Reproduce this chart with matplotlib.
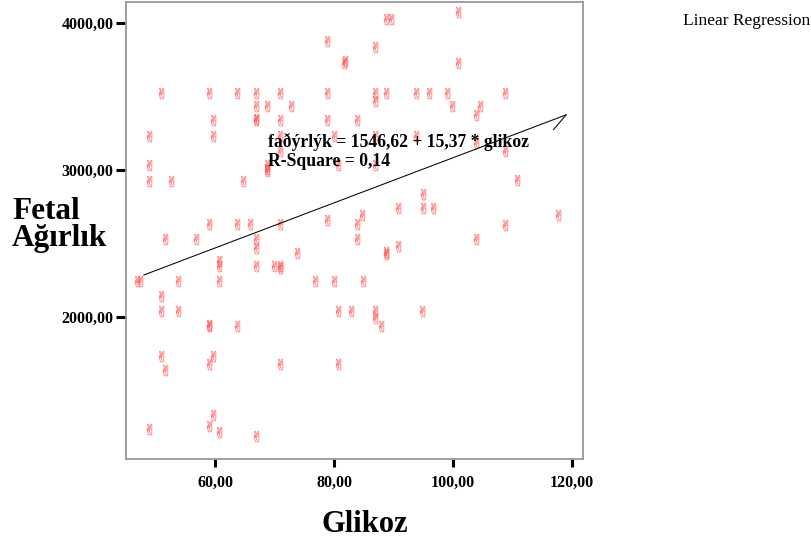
import matplotlib
matplotlib.use('Agg')
import matplotlib.pyplot as plt

# glikoz (x) and fetal weight (y)
glikoz = [88.7, 89.6, 100.8, 78.8, 86.8, 81.7, 81.8, 100.8,
          50.9, 58.9, 63.6, 66.8, 70.9, 78.8, 86.8, 88.7, 93.7, 95.9, 98.9, 108.8,
          86.8, 66.8, 68.7, 72.7, 99.8, 104.6, 103.9,
          59.6, 66.8, 66.9, 70.9, 78.8, 83.9,
          48.8, 59.6, 70.9, 79.9, 86.8, 93.7, 103.9, 70.9, 108.8,
          48.8, 68.7, 80.7, 86.9, 68.7, 68.7,
          48.8, 52.6, 64.7, 110.8, 94.9, 90.8, 94.9, 96.7, 84.7, 117.7, 78.8,
          58.9, 63.6, 65.8, 70.9, 83.9, 108.8,
          51.6, 56.8, 66.8, 83.9, 103.9, 66.8, 90.8, 73.7, 88.8, 88.8,
          60.7, 60.7, 66.8, 69.9, 70.9, 70.9,
          46.8, 47.4, 53.8, 60.7, 76.7, 79.9, 84.8, 50.9,
          50.9, 53.8, 80.7, 82.8, 86.9, 94.8, 86.9,
          58.9, 58.9, 63.6, 87.9, 50.9, 59.6, 58.9, 70.9, 80.7, 51.6,
          59.6, 58.9, 48.8, 60.7, 66.8]
fetal = [4030, 4030, 4080, 3876, 3835, 3729, 3740, 3729,
         3528, 3528, 3528, 3528, 3528, 3528, 3528, 3528, 3528, 3528, 3528, 3528,
         3467, 3433, 3433, 3433, 3433, 3438, 3376,
         3342, 3342, 3350, 3342, 3342, 3342,
         3233, 3233, 3233, 3233, 3233, 3233, 3184, 3127, 3127,
         3036, 3036, 3036, 3036, 2990, 3010,
         2927, 2927, 2927, 2929, 2836, 2741, 2741, 2741, 2695, 2691, 2656,
         2634, 2634, 2634, 2634, 2634, 2627,
         2529, 2529, 2529, 2529, 2529, 2468, 2479, 2434, 2429, 2440,
         2377, 2343, 2343, 2343, 2343, 2330,
         2241, 2241, 2241, 2241, 2241, 2241, 2241, 2138,
         2036, 2036, 2036, 2036, 2036, 2036, 1991,
         1939, 1945, 1939, 1939, 1734, 1734, 1680, 1680, 1680, 1634,
         1332, 1257, 1237, 1212, 1184]

intercept, slope = 1546.62, 15.37
line_x = [48.0, 119.0]
xticks = [60, 80, 100, 120]
yticks = [2000, 3000, 4000]

serif = 'Liberation Serif'

fig = plt.figure(figsize=(8.12, 5.46), dpi=100)
ax = fig.add_axes([0.1552, 0.1593, 0.5628, 0.8376])

ax.scatter(glikoz, fetal, marker='$\u270C$', s=64, color='#ff4a4a',
           alpha=0.5, linewidths=0.3, zorder=2)

line_y = [intercept + slope * v for v in line_x]
ax.plot(line_x, line_y, color='black', lw=0.75, zorder=3)
# little hook at the end of the fitted line
ax.plot([line_x[1], line_x[1] - 2.1], [line_y[1], line_y[1] - 100],
        color='black', lw=0.75, zorder=3)

ax.set_xlim(45.0, 121.85)
ax.set_ylim(1030, 4147)
ax.set_xticks(xticks)
ax.set_yticks(yticks)
ax.set_xticklabels([f'{v:.2f}'.replace('.', ',') for v in xticks],
                   fontfamily=serif, fontweight='bold', fontsize=11.5)
ax.set_yticklabels([f'{v:.2f}'.replace('.', ',') for v in yticks],
                   fontfamily=serif, fontweight='bold', fontsize=11.5)
ax.tick_params(axis='y', direction='out', length=7.5, width=2.2, pad=1.5)
ax.tick_params(axis='x', direction='out', length=5.5, width=2.2, pad=6)
for s in ax.spines.values():
    s.set_color('#999999')
    s.set_linewidth(1.3)

# labels and annotations placed in figure pixels
W, H = 812, 546
def ftext(px, py, txt, **kw):
    fig.text(px / W, 1 - py / H, txt, fontfamily=serif, va='baseline', **kw)

ftext(365, 532, 'Glikoz', ha='center', fontsize=22, fontweight='bold')
ftext(12, 219, 'Fetal', ha='left', fontsize=22.5, fontweight='bold')
ftext(12, 246, 'Ağırlık', ha='left', fontsize=22.5, fontweight='bold')
ftext(268, 147, 'faðýrlýk = 1546,62 + 15,37 * glikoz', ha='left',
      fontsize=12.7, fontweight='bold')
ftext(268, 166, 'R-Square = 0,14', ha='left', fontsize=12.7, fontweight='bold')
ftext(810, 25, 'Linear Regression', ha='right', fontsize=12.5)

fig.savefig('out.png', dpi=100)
